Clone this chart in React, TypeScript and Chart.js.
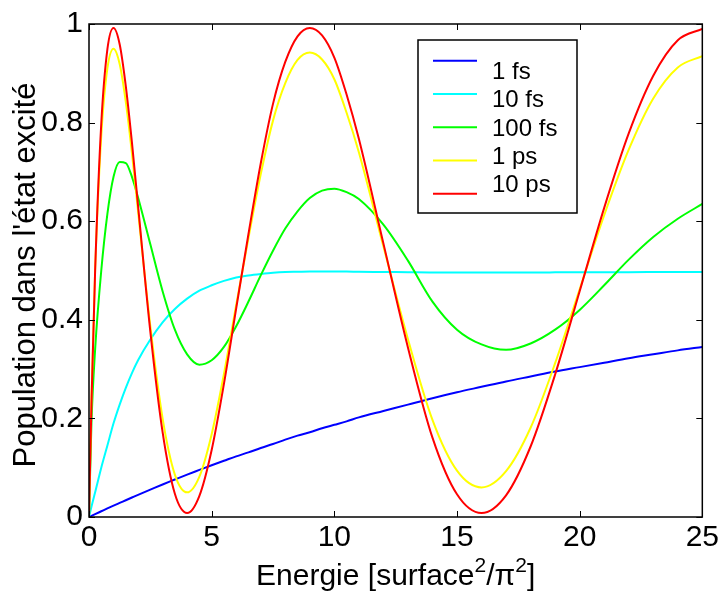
import React, { useEffect, useRef } from "react";
import { Chart, registerables } from "chart.js";

Chart.register(...registerables);

// ---- data ----
const energy = [0, 0.1, 0.25, 0.5, 0.75, 1, 1.25, 1.5, 1.75, 2, 2.5, 3, 3.5, 4, 4.5, 5, 5.5, 6, 6.5, 7, 7.5, 8, 8.5, 9, 9.5, 10, 10.5, 11, 12, 13, 14, 15, 16, 17, 18, 19, 20, 21, 22, 23, 24, 25];

const pop1fs = [0, 0.0023, 0.0058, 0.0116, 0.0174, 0.023, 0.0285, 0.034, 0.0395, 0.045, 0.0555, 0.066, 0.076, 0.086, 0.0955, 0.105, 0.114, 0.123, 0.131, 0.14, 0.148, 0.157, 0.165, 0.172, 0.18, 0.187, 0.194, 0.202, 0.215, 0.228, 0.241, 0.253, 0.264, 0.275, 0.285, 0.295, 0.304, 0.313, 0.322, 0.33, 0.338, 0.345];

const pop10fs = [0, 0.021, 0.05, 0.1, 0.145, 0.19, 0.228, 0.262, 0.292, 0.318, 0.36, 0.395, 0.422, 0.443, 0.459, 0.47, 0.479, 0.486, 0.49, 0.493, 0.4955, 0.497, 0.4975, 0.498, 0.498, 0.498, 0.4978, 0.4975, 0.497, 0.4965, 0.496, 0.496, 0.496, 0.496, 0.496, 0.4962, 0.4965, 0.4966, 0.4967, 0.4968, 0.4968, 0.497];

const pop100fs = [0, 0.19, 0.34, 0.5, 0.615, 0.69, 0.72, 0.718, 0.69, 0.648, 0.553, 0.458, 0.38, 0.33, 0.309, 0.318, 0.345, 0.387, 0.437, 0.49, 0.54, 0.585, 0.62, 0.647, 0.662, 0.666, 0.659, 0.645, 0.593, 0.52, 0.437, 0.38, 0.35, 0.339, 0.352, 0.38, 0.42, 0.47, 0.522, 0.568, 0.605, 0.635];

const pop1ps = [0, 0.24, 0.5, 0.773, 0.91, 0.95, 0.919, 0.842, 0.738, 0.62, 0.387, 0.2, 0.086, 0.05, 0.082, 0.168, 0.29, 0.43, 0.566, 0.695, 0.804, 0.88, 0.927, 0.942, 0.928, 0.888, 0.82, 0.74, 0.549, 0.361, 0.197, 0.094, 0.06, 0.093, 0.181, 0.312, 0.462, 0.612, 0.745, 0.849, 0.912, 0.935];

const pop10ps = [0, 0.231, 0.5, 0.798, 0.949, 0.992, 0.959, 0.874, 0.76, 0.631, 0.376, 0.172, 0.047, 0.008, 0.043, 0.136, 0.27, 0.423, 0.574, 0.717, 0.838, 0.923, 0.975, 0.992, 0.977, 0.932, 0.857, 0.767, 0.555, 0.344, 0.161, 0.046, 0.008, 0.044, 0.143, 0.289, 0.458, 0.627, 0.778, 0.895, 0.967, 0.99];

const seriesLabels = ["1 fs", "10 fs", "100 fs", "1 ps", "10 ps"];
const seriesValues = [pop1fs, pop10fs, pop100fs, pop1ps, pop10ps];
const seriesColors = ["#0000ff", "#00ffff", "#00ff00", "#ffff00", "#ff0000"];

const xTicks = [0, 5, 10, 15, 20, 25];
const yTicks = [0, 0.2, 0.4, 0.6, 0.8, 1];
const yTickLabels = ["0", "0.2", "0.4", "0.6", "0.8", "1"];

const yTitle = "Population dans l'état excité";
const xTitleParts = [
  { text: "Energie [surface", sup: false },
  { text: "2", sup: true },
  { text: "/π", sup: false },
  { text: "2", sup: true },
  { text: "]", sup: false },
];

const FONT = "'Liberation Sans', Arial, Helvetica, sans-serif";

const decorPlugin = {
  id: "decor",
  afterDraw(chart: any) {
    const { ctx, chartArea: a, scales } = chart;
    const xs = scales.x;
    const ys = scales.y;
    ctx.save();

    // frame + inward ticks
    ctx.strokeStyle = "#000";
    ctx.lineWidth = 1.5;
    ctx.strokeRect(a.left, a.top, a.right - a.left, a.bottom - a.top);
    ctx.lineWidth = 1;
    ctx.beginPath();
    const tl = 6;
    for (const v of xTicks) {
      const px = Math.round(xs.getPixelForValue(v)) + 0.5;
      ctx.moveTo(px, a.bottom);
      ctx.lineTo(px, a.bottom - tl);
      ctx.moveTo(px, a.top);
      ctx.lineTo(px, a.top + tl);
    }
    for (const v of yTicks) {
      const py = Math.round(ys.getPixelForValue(v)) + 0.5;
      ctx.moveTo(a.left, py);
      ctx.lineTo(a.left + tl, py);
      ctx.moveTo(a.right, py);
      ctx.lineTo(a.right - tl, py);
    }
    ctx.stroke();

    // legend
    const lx = 418, ly = 40, lw = 159, lh = 173;
    ctx.fillStyle = "#fff";
    ctx.fillRect(lx, ly, lw, lh);
    ctx.strokeStyle = "#000";
    ctx.lineWidth = 1.5;
    ctx.strokeRect(lx, ly, lw, lh);
    ctx.font = `24px ${FONT}`;
    ctx.textAlign = "left";
    ctx.textBaseline = "alphabetic";
    chart.data.datasets.forEach((ds: any, i: number) => {
      const yLine = 60.7 + i * 33.25;
      ctx.strokeStyle = ds.borderColor;
      ctx.lineWidth = 2;
      ctx.beginPath();
      ctx.moveTo(433, yLine);
      ctx.lineTo(477, yLine);
      ctx.stroke();
      ctx.fillStyle = "#000";
      ctx.fillText(ds.label, 492, 70.7 + i * 28.15 + 8.6);
    });

    // y title
    ctx.fillStyle = "#000";
    ctx.save();
    ctx.translate(35, 275);
    ctx.rotate(-Math.PI / 2);
    ctx.font = `31px ${FONT}`;
    ctx.textAlign = "center";
    ctx.textBaseline = "alphabetic";
    ctx.fillText(yTitle, 0, 0);
    ctx.restore();

    // x title with superscripts
    const mainFont = `30px ${FONT}`;
    const supFont = `21px ${FONT}`;
    let total = 0;
    const widths = xTitleParts.map((p) => {
      ctx.font = p.sup ? supFont : mainFont;
      const w = ctx.measureText(p.text).width;
      total += w;
      return w;
    });
    let cx = (a.left + a.right) / 2 - total / 2;
    ctx.textAlign = "left";
    xTitleParts.forEach((p, i) => {
      ctx.font = p.sup ? supFont : mainFont;
      ctx.fillText(p.text, cx, p.sup ? 572 : 585);
      cx += widths[i];
    });

    ctx.restore();
  },
};

export default function App() {
  const ref = useRef<HTMLCanvasElement | null>(null);

  useEffect(() => {
    if (!ref.current) return;
    const chart = new Chart(ref.current, {
      type: "line",
      data: {
        datasets: seriesLabels.map((label, i) => ({
          label,
          data: energy.map((x, k) => ({ x, y: seriesValues[i][k] })),
          borderColor: seriesColors[i],
          backgroundColor: seriesColors[i],
          borderWidth: 2,
          pointRadius: 0,
          cubicInterpolationMode: "monotone",
          fill: false,
          order: seriesLabels.length - i,
        })),
      },
      options: {
        animation: false,
        responsive: false,
        devicePixelRatio: 1,
        layout: { padding: { left: 0, right: 18, top: 24, bottom: 0 } },
        plugins: {
          legend: { display: false },
          tooltip: { enabled: false },
        },
        scales: {
          x: {
            type: "linear",
            min: 0,
            max: 25,
            grid: { display: false, drawTicks: false },
            border: { display: false },
            afterBuildTicks: (s: any) => {
              s.ticks = xTicks.map((v) => ({ value: v }));
            },
            afterFit: (s: any) => {
              s.height = 76;
            },
            ticks: {
              color: "#000",
              padding: 3,
              maxRotation: 0,
              autoSkip: false,
              font: { family: FONT, size: 30 },
              callback: (v: any) => String(v),
            },
          },
          y: {
            type: "linear",
            min: 0,
            max: 1,
            grid: { display: false, drawTicks: false },
            border: { display: false },
            afterBuildTicks: (s: any) => {
              s.ticks = yTicks.map((v) => ({ value: v }));
            },
            afterFit: (s: any) => {
              s.width = 89;
            },
            ticks: {
              color: "#000",
              padding: 6,
              autoSkip: false,
              font: { family: FONT, size: 30 },
              callback: (v: any, i: number) => yTickLabels[i],
            },
          },
        },
      },
      plugins: [decorPlugin],
    } as any);
    return () => chart.destroy();
  }, []);

  return (
    <div style={{ position: "absolute", left: 0, top: 0, width: 722, height: 593, background: "#fff" }}>
      <canvas ref={ref} width={722} height={593} style={{ display: "block" }} />
    </div>
  );
}
